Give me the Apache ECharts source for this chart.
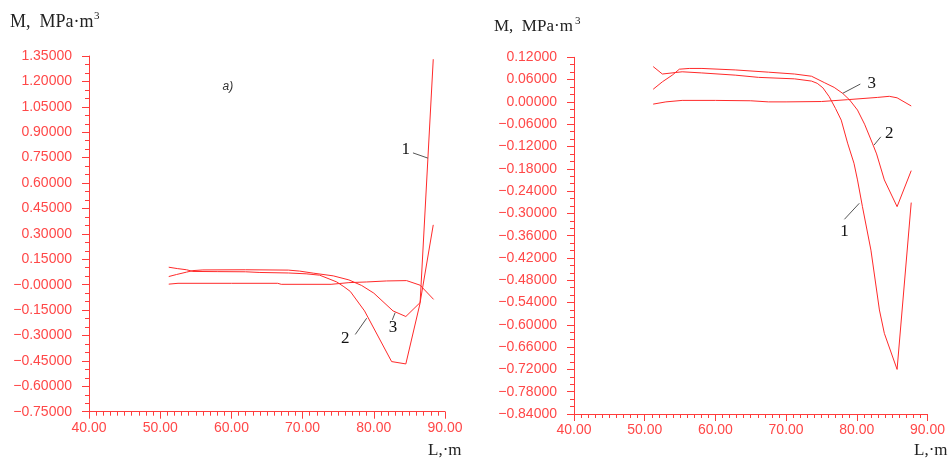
<!DOCTYPE html>
<html><head><meta charset="utf-8">
<script src="https://cdn.jsdelivr.net/npm/echarts@6/dist/echarts.min.js"></script>
<style>html,body{margin:0;padding:0;background:#fff}#c{width:948px;height:459px}</style>
</head><body><div id="c"></div>
<script>
// ---------- data: panel a) ----------
const aCurveDeep = [[51.2,0.103],[52.4,0.095],[53.7,0.088],[54.6,0.078],[58,0.077],[62,0.076],[64,0.072],[68,0.069],[70.5,0.064],[72.4,0.056],[74.8,0.016],[75.8,-0.012],[76.7,-0.04],[78.7,-0.155],[82.5,-0.454],[84.5,-0.468],[86.5,-0.109],[88.35,1.331]];
const aCurveShallow = [[51.2,0.048],[52.3,0.060],[53.7,0.074],[54.6,0.083],[56,0.087],[62,0.088],[68,0.086],[69.6,0.080],[71.5,0.068],[74.3,0.052],[76.5,0.028],[78.3,-0.005],[80,-0.05],[82.7,-0.155],[84.5,-0.188],[86.5,-0.106],[88.35,0.353]];
const aCurveFlat = [[51.2,0.003],[52.5,0.008],[60,0.008],[66.5,0.008],[67,0.002],[74,0.002],[76.5,0.012],[79,0.016],[81.8,0.022],[84.6,0.024],[86.5,-0.003],[88.4,-0.087]];
const aXTickLabels = ['40.00','50.00','60.00','70.00','80.00','90.00'];
const aYTickLabels = ['\u22120.75000','\u22120.60000','\u22120.45000','\u22120.30000','\u22120.15000','\u22120.00000','0.15000','0.30000','0.45000','0.60000','0.75000','0.90000','1.05000','1.20000','1.35000'];

// ---------- data: panel b) ----------
const bCurve1 = [[51.2,0.095],[52.5,0.075],[55.3,0.081],[58,0.078],[62.8,0.072],[66.1,0.066],[71.2,0.062],[73.6,0.056],[74.4,0.050],[75.2,0.038],[76.1,0.014],[77.0,-0.018],[77.8,-0.049],[78.7,-0.111],[79.6,-0.165],[80.1,-0.21],[80.8,-0.282],[82,-0.399],[83.2,-0.56],[83.9,-0.623],[85.7,-0.72],[87.7,-0.271]];
const bCurve2 = [[51.2,0.034],[52.5,0.054],[53.9,0.072],[54.9,0.088],[56.3,0.090],[58.1,0.090],[62.8,0.086],[67.5,0.080],[71.2,0.075],[73.6,0.069],[75.4,0.052],[76.8,0.039],[78.0,0.023],[79.0,0.005],[80.1,-0.022],[81.1,-0.06],[82.2,-0.111],[82.8,-0.14],[83.9,-0.21],[85.7,-0.282],[87.7,-0.185]];
const bCurve3 = [[51.2,-0.006],[53,0.0],[55.3,0.004],[60,0.004],[65,0.003],[67.5,0.0],[70,0.0],[75,0.001],[78.7,0.006],[82.9,0.012],[84.6,0.015],[85.7,0.011],[87.7,-0.011]];
const bXTickLabels = ['40.00','50.00','60.00','70.00','80.00','90.00'];
const bYTickLabels = ['\u22120.84000','\u22120.78000','\u22120.72000','\u22120.66000','\u22120.60000','\u22120.54000','\u22120.48000','\u22120.42000','\u22120.36000','\u22120.30000','\u22120.24000','\u22120.18000','\u22120.12000','\u22120.06000','0.00000','0.06000','0.12000'];

// ---------- annotations (curve numbers with leader lines, data coords) ----------
const aNotes = [
  {text:'1', at:[84.5,0.80], from:[85.5,0.778], to:[87.6,0.747]},
  {text:'2', at:[76.0,-0.32], from:[77.4,-0.294], to:[79.0,-0.198]},
  {text:'3', at:[82.7,-0.255], from:[82.6,-0.208], to:[83.0,-0.165]}
];
const bNotes = [
  {text:'3', at:[82.1,0.050], from:[80.5,0.048], to:[78.0,0.023]},
  {text:'2', at:[84.6,-0.085], from:[83.4,-0.094], to:[82.45,-0.116]},
  {text:'1', at:[78.25,-0.349], from:[78.25,-0.316], to:[80.35,-0.273]}
];
const aPanelTag = {text:'a)', at:[59.5,1.169]};
const bPanelTag = {text:'b)', at:[61.2,0.1216]};

const RED = '#ff2a2a';
const AXIS = '#ff3c3c';
const LBL = '#ff4848';
const SANS = 'Liberation Sans';
const SERIF = 'Liberation Serif';

function labelLookup(labels, min, step){
  return v => labels[Math.round((v - min) / step)] || '';
}

function xAxis(grid, labels){
  return {
    type:'value', gridIndex:grid, min:40, max:90, interval:10,
    axisLine:{show:true, onZero:false, lineStyle:{color:AXIS, width:1}},
    axisTick:{show:true, length:7, lineStyle:{color:AXIS, width:1}},
    minorTick:{show:true, splitNumber:10, length:4, lineStyle:{color:AXIS, width:1}},
    splitLine:{show:false}, minorSplitLine:{show:false},
    axisLabel:{color:LBL, fontFamily:SANS, fontSize:14, margin:9, formatter:labelLookup(labels,40,10)}
  };
}
function yAxis(grid, min, max, step, labels){
  return {
    type:'value', gridIndex:grid, min:min, max:max, interval:step,
    axisLine:{show:true, onZero:false, lineStyle:{color:AXIS, width:1}},
    axisTick:{show:true, length:7, lineStyle:{color:AXIS, width:1}},
    minorTick:{show:true, splitNumber:3, length:4, lineStyle:{color:AXIS, width:1}},
    splitLine:{show:false}, minorSplitLine:{show:false},
    axisLabel:{color:LBL, fontFamily:SANS, fontSize:14, margin:17, formatter:labelLookup(labels,min,step)}
  };
}
function line(data, idx, extra){
  return Object.assign({
    type:'line', xAxisIndex:idx, yAxisIndex:idx, data:data, showSymbol:false, symbol:'none',
    lineStyle:{color:RED, width:1}, itemStyle:{color:RED}, animation:false, silent:true, z:3
  }, extra||{});
}
function marks(notes, tag){
  const pts = notes.map(n => ({coord:n.at, value:n.text, symbolSize:0.01,
      label:{show:true, position:'inside', formatter:n.text, color:'#111', fontFamily:SERIF, fontSize:17}}));
  pts.push({coord:tag.at, value:tag.text, symbolSize:0.01,
      label:{show:true, position:'inside', formatter:tag.text, color:'#333', fontFamily:SANS, fontSize:12, fontStyle:'italic'}});
  return {
    markPoint:{symbol:'circle', symbolSize:0.01, itemStyle:{color:'rgba(0,0,0,0)'}, silent:true, animation:false, data:pts},
    markLine:{symbol:['none','none'], silent:true, animation:false, label:{show:false},
      lineStyle:{color:'#555', width:1, type:'solid'},
      data: notes.map(n => [{coord:n.from}, {coord:n.to}])}
  };
}

const chart = echarts.init(document.getElementById('c'), null, {renderer:'canvas'});
chart.setOption({
  backgroundColor:'#ffffff',
  animation:false,
  grid:[
    {left:89, top:56, width:356, height:355.7},
    {left:574, top:57.3, width:356.3, height:356.7}
  ],
  xAxis:[xAxis(0,aXTickLabels), xAxis(1,bXTickLabels)],
  yAxis:[yAxis(0,-0.75,1.35,0.15,aYTickLabels), yAxis(1,-0.84,0.12,0.06,bYTickLabels)],
  series:[
    line(aCurveDeep,0,marks(aNotes,aPanelTag)),
    line(aCurveShallow,0),
    line(aCurveFlat,0),
    line(bCurve1,1,marks(bNotes,bPanelTag)),
    line(bCurve2,1),
    line(bCurve3,1)
  ],
  graphic:[
    {type:'text', left:10, top:13, style:{text:'M,  MPa\u00b7m', font:'18px "Liberation Serif"', fill:'#222'}},
    {type:'text', left:94, top:11, style:{text:'3', font:'11px "Liberation Serif"', fill:'#222'}},
    {type:'text', left:494, top:18, style:{text:'M,  MPa\u00b7m', font:'17px "Liberation Serif"', fill:'#222'}},
    {type:'text', left:575, top:16, style:{text:'3', font:'11px "Liberation Serif"', fill:'#222'}},
    {type:'text', left:428, top:442, style:{text:'L,\u00b7m', font:'17px "Liberation Serif"', fill:'#222'}},
    {type:'text', left:914, top:442, style:{text:'L,\u00b7m', font:'17px "Liberation Serif"', fill:'#222'}}
  ]
});
</script>
</body></html>
